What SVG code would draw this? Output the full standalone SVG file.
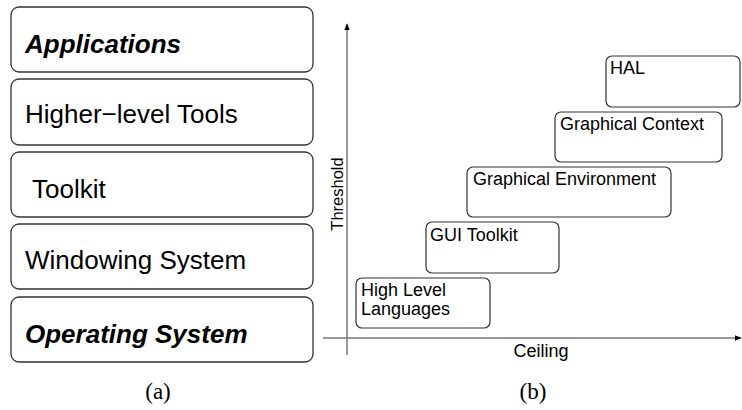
<svg xmlns="http://www.w3.org/2000/svg" width="742" height="410" viewBox="0 0 742 410">
<style>
.lay{fill:#fff;stroke:#333;stroke-width:1.3}
.box{fill:#fff;stroke:#333;stroke-width:1.2}
.t{font-family:"Liberation Sans",Arial,sans-serif;fill:#000}
.big{font-size:26px}
.bi{font-weight:bold;font-style:italic}
.sm{font-size:18px}
.cap{font-family:"Liberation Serif","Times New Roman",serif;font-size:23px;fill:#000;text-anchor:middle}
.axis{stroke:#777;stroke-width:1.5;fill:none}
</style>
<defs>
<marker id="ah" viewBox="0 0 10 10" refX="9" refY="5" markerWidth="7" markerHeight="7" markerUnits="userSpaceOnUse" orient="auto">
<path d="M0,1 L10,5 L0,9 z" fill="#000"/>
</marker>
</defs>
<rect width="742" height="410" fill="#fff"/>
<g id="applications"><rect class="lay" x="11" y="7" width="302" height="65" rx="8"/><text class="t big bi" x="25" y="53">Applications</text></g>
<g id="higher-level-tools"><rect class="lay" x="11" y="79" width="302" height="66" rx="8"/><text class="t big" x="25" y="123">Higher−level Tools</text></g>
<g id="toolkit"><rect class="lay" x="11" y="152" width="302" height="65" rx="8"/><text class="t big" x="32" y="198">Toolkit</text></g>
<g id="windowing-system"><rect class="lay" x="11" y="224" width="302" height="65" rx="8"/><text class="t big" x="25" y="269">Windowing System</text></g>
<g id="operating-system"><rect class="lay" x="11" y="297" width="302" height="65" rx="8"/><text class="t big bi" x="25" y="343">Operating System</text></g>
<text class="cap" x="158" y="399">(a)</text>
<g id="connectors">
<line class="axis" x1="347" y1="355" x2="347" y2="24" marker-end="url(#ah)"/>
<line class="axis" x1="323" y1="338" x2="741" y2="338" marker-end="url(#ah)"/>
</g>
<text class="t" font-size="16.5" transform="translate(343,194) rotate(-90)" text-anchor="middle">Threshold</text>
<text class="t sm" x="541" y="357" text-anchor="middle">Ceiling</text>
<g id="hal"><rect class="box" x="606" y="56" width="134" height="51" rx="6"/><text class="t sm" x="610" y="74">HAL</text></g>
<g id="graphical-context"><rect class="box" x="555" y="112" width="167" height="50" rx="6"/><text class="t sm" x="560" y="130">Graphical Context</text></g>
<g id="graphical-environment"><rect class="box" x="467" y="167" width="204" height="50" rx="6"/><text class="t sm" x="473" y="185">Graphical Environment</text></g>
<g id="gui-toolkit"><rect class="box" x="426" y="222" width="133" height="51" rx="6"/><text class="t sm" x="430" y="241">GUI Toolkit</text></g>
<g id="high-level-languages"><rect class="box" x="356" y="278" width="134" height="50" rx="6"/><text class="t sm" x="361" y="296">High Level</text><text class="t sm" x="361" y="315">Languages</text></g>
<text class="cap" x="533" y="399">(b)</text>
</svg>
